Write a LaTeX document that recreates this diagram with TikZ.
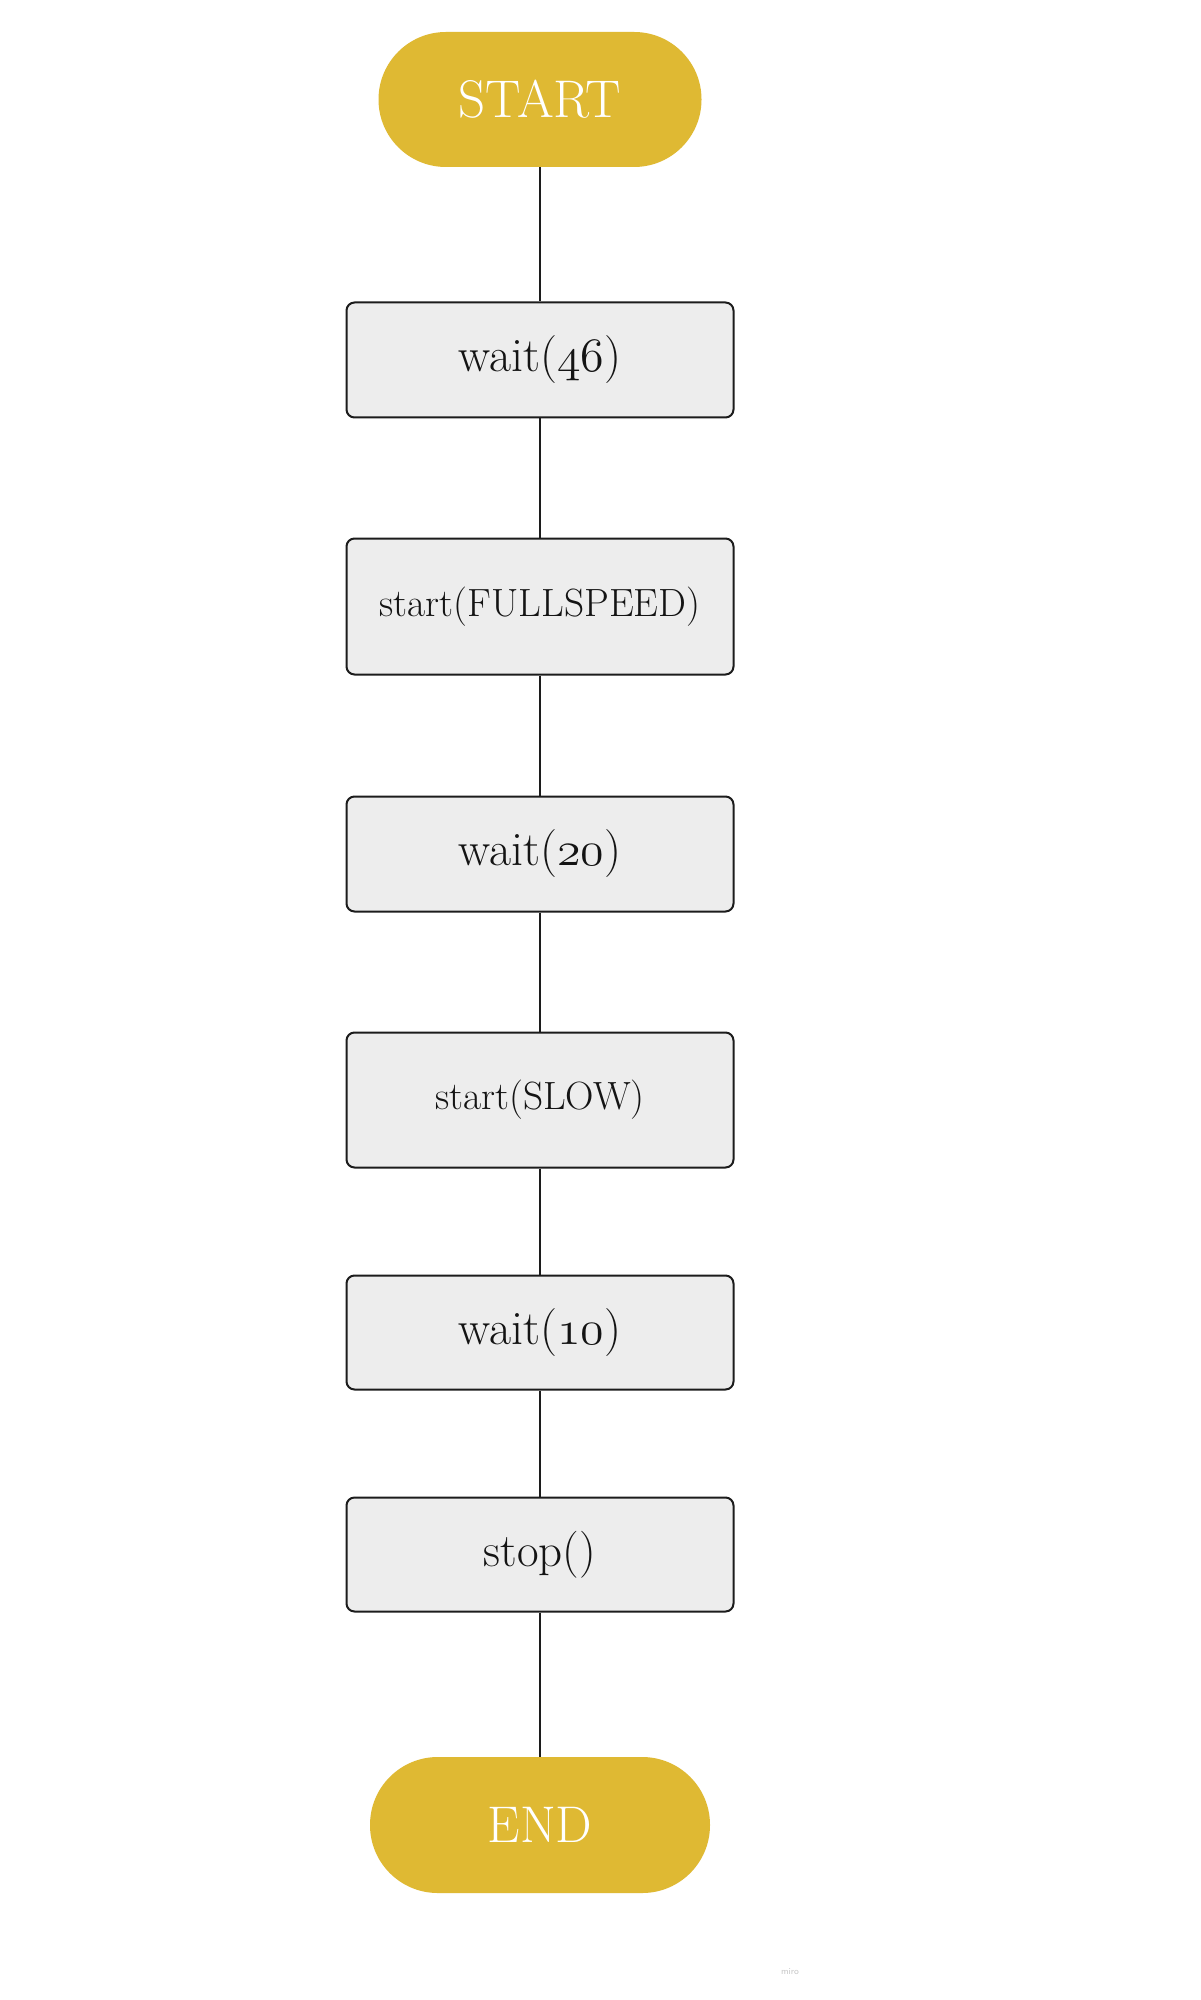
\RequirePackage{fix-cm}
\documentclass[tikz,border=0pt]{standalone}
\usetikzlibrary{positioning}
\definecolor{gold}{HTML}{DFB933}
\definecolor{boxfill}{HTML}{EDEDED}
\definecolor{ink}{HTML}{1C1C1C}
\definecolor{txt}{HTML}{141414}
\definecolor{wm}{HTML}{C8C8C8}
\newcommand\osf[1]{{\usefont{OML}{cmm}{m}{it}#1}}
\begin{document}
\begin{tikzpicture}[x=0.5pt,y=-0.5pt,
  pill/.style={rectangle,fill=gold,draw=none,text=white,inner sep=0pt},
  stepbox/.style={rectangle,rounded corners=4pt,fill=boxfill,draw=ink,line width=1pt,
    minimum width=193.5pt,inner sep=0pt,text=txt},
  bigtxt/.style={font=\fontsize{24}{28}\selectfont},
  smalltxt/.style={font=\fontsize{19.7}{23}\selectfont},
  conn/.style={draw=ink,line width=1pt}]
\useasboundingbox (0,0) rectangle (1200,2000);
\fill[white] (0,0) rectangle (1200,2000);

\node[pill,minimum width=161.5pt,minimum height=67.5pt,rounded corners=33.7pt,
  font=\fontsize{26.5}{30}\selectfont] (start) at (540,99.5) {START};
\node[stepbox,bigtxt,minimum height=57.5pt] (w46) at (540,360) {wait(\osf{46})};
\node[stepbox,smalltxt,minimum height=68pt] (sfull) at (540,606.5) {start(FULLSPEED)};
\node[stepbox,bigtxt,minimum height=57.5pt] (w20) at (540,854) {wait(\osf{20})};
\node[stepbox,smalltxt,minimum height=67.5pt] (sslow) at (540,1100) {start(SLOW)};
\node[stepbox,bigtxt,minimum height=57pt] (w10) at (540,1332.5) {wait(\osf{10})};
\node[stepbox,font=\fontsize{23.5}{27}\selectfont,minimum height=57pt] (stop) at (540,1554.5) {stop()};
\node[pill,minimum width=170pt,minimum height=68pt,rounded corners=33.9pt,
  font=\fontsize{25.8}{30}\selectfont] (end) at (540,1825) {END};

\draw[conn] (start) -- (w46);
\draw[conn] (w46) -- (sfull);
\draw[conn] (sfull) -- (w20);
\draw[conn] (w20) -- (sslow);
\draw[conn] (sslow) -- (w10);
\draw[conn] (w10) -- (stop);
\draw[conn] (stop) -- (end);

\node[text=wm,font=\sffamily\fontsize{4.5}{5}\selectfont,inner sep=0pt] (miro) at (790,1972) {miro};
\end{tikzpicture}
\end{document}
